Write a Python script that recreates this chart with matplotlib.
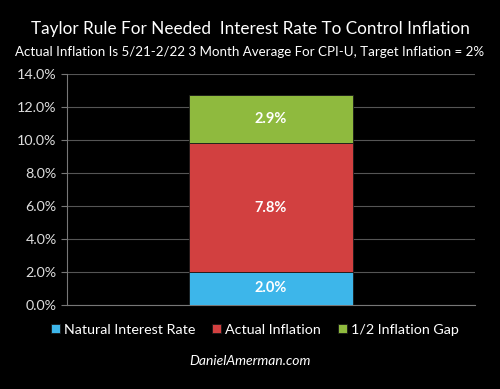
import matplotlib

matplotlib.use("Agg")
import matplotlib.pyplot as plt
from matplotlib.ticker import FuncFormatter

plt.rcParams["font.family"] = ["Lato", "DejaVu Sans"]

series = ["Natural Interest Rate", "Actual Inflation", "1/2 Inflation Gap"]
values = [2.0, 7.8, 2.9]
colors = ["#3db6ea", "#d24040", "#8fba3e"]
yticks = [0, 2, 4, 6, 8, 10, 12, 14]

fig = plt.figure(figsize=(5.0, 3.89), dpi=100, facecolor="black")
ax = fig.add_axes([0.134, 0.216, 0.816, 0.594], facecolor="black")

bottom = 0.0
handles = []
for name, val, col in zip(series, values, colors):
    b = ax.bar(0, val, width=0.8, bottom=bottom, color=col, edgecolor="#1a1a1a",
               linewidth=0.6, label=name, zorder=3)
    handles.append(b)
    ax.text(0, bottom + val / 2, f"{val:.1f}%", ha="center", va="center",
            color="white", fontsize=10.5, fontweight="bold", zorder=4)
    bottom += val

ax.set_xlim(-1, 1)
ax.set_ylim(0, 14)
ax.set_yticks(yticks)
ax.yaxis.set_major_formatter(FuncFormatter(lambda v, _: f"{v:.1f}%"))
ax.set_xticks([])
ax.grid(axis="y", color="#555555", linewidth=0.8, zorder=0)
for s in ["top", "right"]:
    ax.spines[s].set_visible(False)
ax.spines["left"].set_color("#777777")
ax.spines["bottom"].set_color("#777777")
ax.tick_params(axis="y", colors="#dddddd", labelsize=10.3, length=4, color="#777777")

fig.text(0.5, 0.925, "Taylor Rule For Needed  Interest Rate To Control Inflation",
         ha="center", va="center", color="white", fontsize=12.3)
fig.text(0.5, 0.866, "Actual Inflation Is 5/21-2/22 3 Month Average For CPI-U, Target Inflation = 2%",
         ha="center", va="center", color="white", fontsize=9.6)

leg = fig.legend(handles=handles, labels=series, loc="center", bbox_to_anchor=(0.51, 0.152),
                 ncol=3, frameon=False, fontsize=10.3, handlelength=0.6, handleheight=0.6,
                 handletextpad=0.3, columnspacing=1.2)
for t in leg.get_texts():
    t.set_color("white")

fig.text(0.5, 0.072, "DanielAmerman.com", ha="center", va="center", color="white",
         fontsize=10, style="italic")

fig.savefig("out.png", dpi=100, facecolor="black")
